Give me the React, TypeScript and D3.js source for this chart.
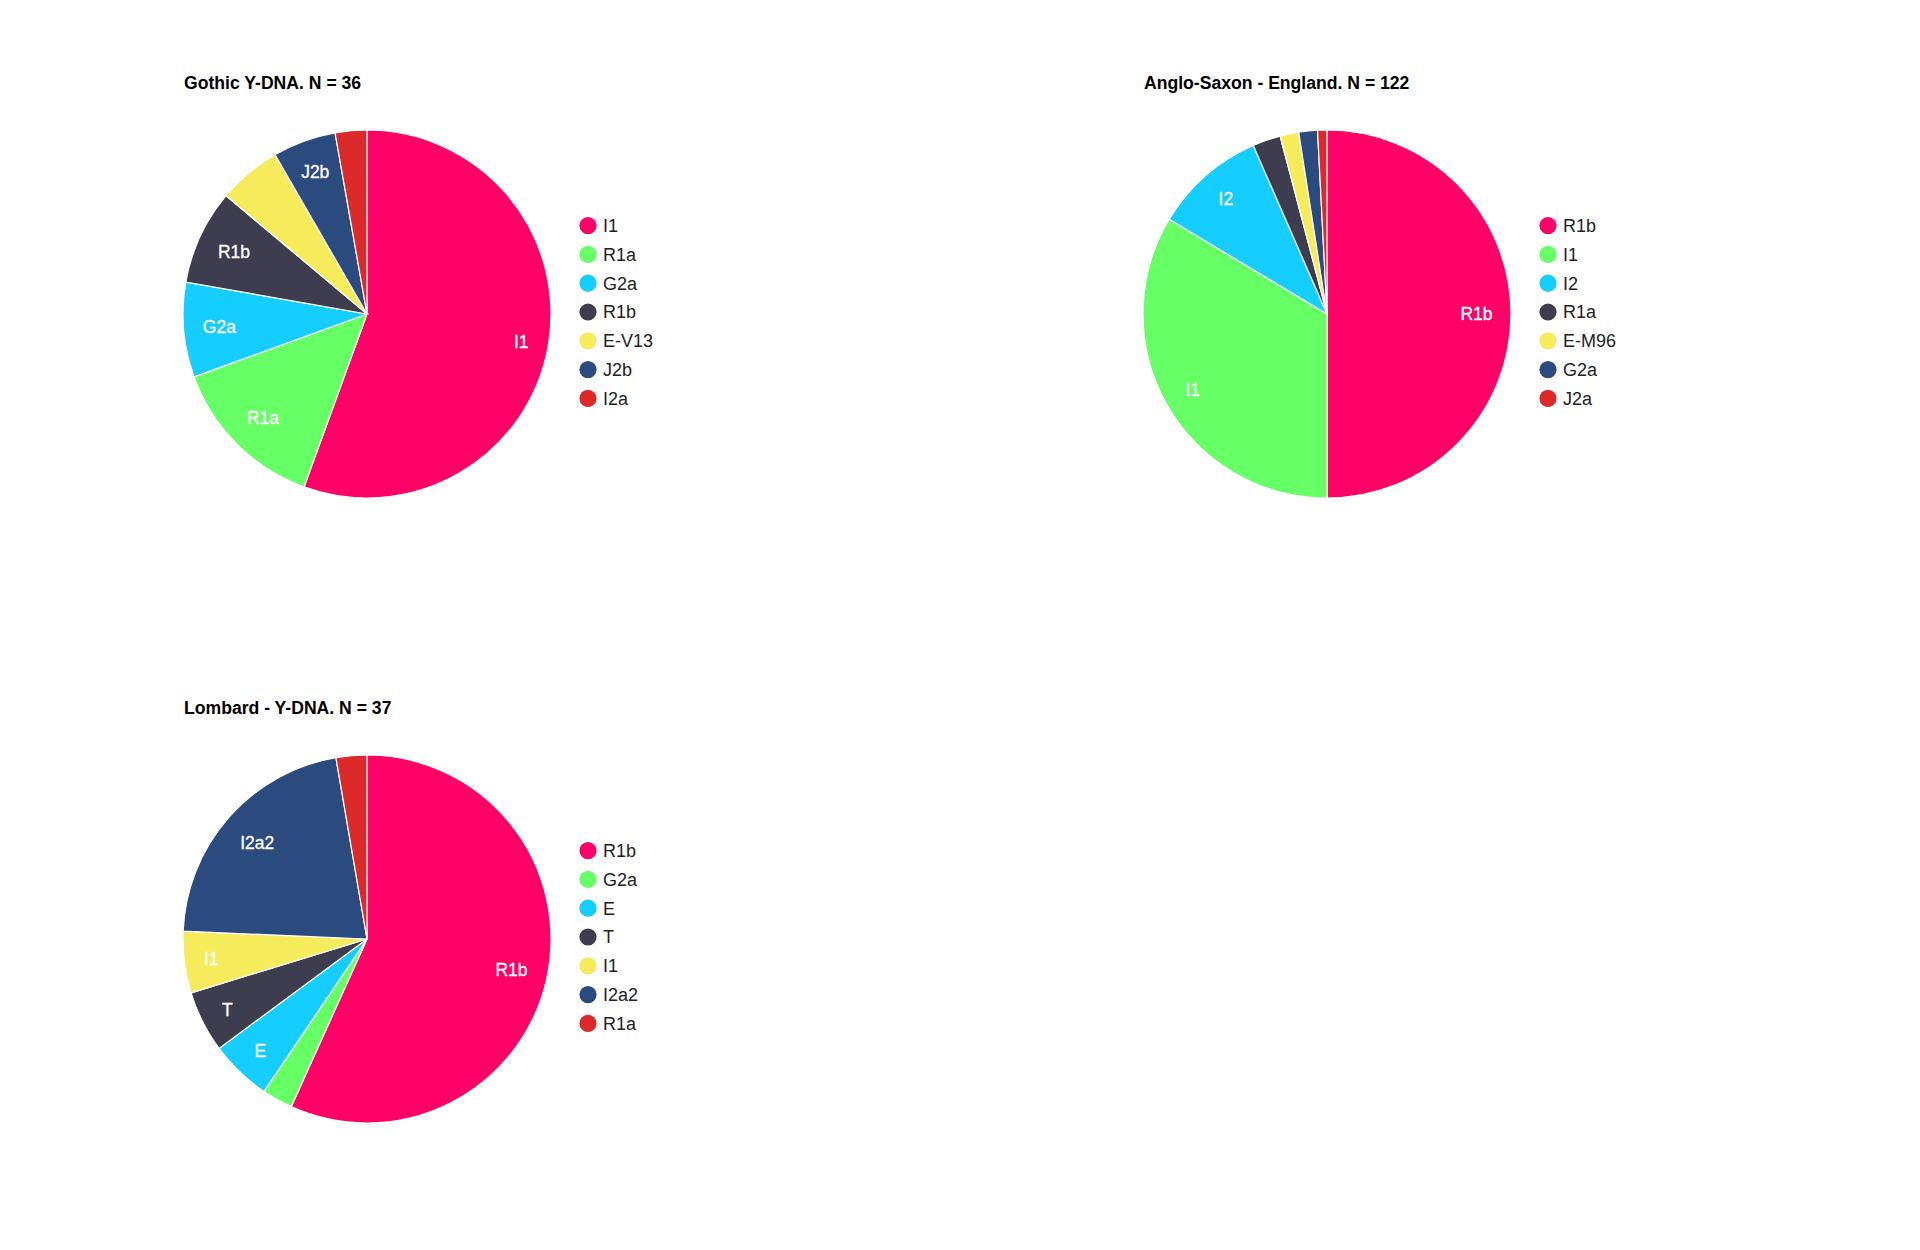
import React from "react";
import * as d3 from "d3";

const gothicTitle = "Gothic Y-DNA. N = 36";
const gothicLabels = ["I1", "R1a", "G2a", "R1b", "E-V13", "J2b", "I2a"];
const gothicValues = [20, 5, 3, 3, 2, 2, 1];

const angloTitle = "Anglo-Saxon - England. N = 122";
const angloLabels = ["R1b", "I1", "I2", "R1a", "E-M96", "G2a", "J2a"];
const angloValues = [61, 41, 12, 3, 2, 2, 1];

const lombardTitle = "Lombard - Y-DNA. N = 37";
const lombardLabels = ["R1b", "G2a", "E", "T", "I1", "I2a2", "R1a"];
const lombardValues = [21, 1, 2, 2, 2, 8, 1];

const palette = ["#ff0066", "#66ff66", "#15cdff", "#3e3c4f", "#f5eb5b", "#2b4a7e", "#dc2a2a"];

const FONT = "'Liberation Sans', Arial, Helvetica, sans-serif";
const R = 184;
const LABEL_SIZE = 17.5;

let ctx: CanvasRenderingContext2D | null = null;
function textWidth(t: string, size: number, weight = "normal") {
  if (!ctx) ctx = document.createElement("canvas").getContext("2d");
  if (!ctx) return t.length * size * 0.6;
  ctx.font = `${weight} ${size}px ${FONT}`;
  return ctx.measureText(t).width;
}

function norm(a: number) {
  const t = Math.PI * 2;
  return ((a % t) + t) % t;
}

type PieProps = { cx: number; cy: number; title: string; labels: string[]; values: number[] };

function Pie({ cx, cy, title, labels, values }: PieProps) {
  const data = labels.map((l, i) => ({ label: l, value: values[i], color: palette[i] }));
  const arcs = d3.pie<any>().sort(null).value((d: any) => d.value).startAngle(0).endAngle(Math.PI * 2)(data);
  const arc = d3.arc<any>().innerRadius(0).outerRadius(R);
  const hh = 10;
  return (
    <g>
      <text x={cx - 183} y={cy - 225} fontFamily={FONT} fontSize={17.6} fontWeight="bold" fill="#000">
        {title}
      </text>
      <g transform={`translate(${cx},${cy})`}>
        {arcs.map((a, i) => (
          <path key={i} d={arc(a) as string} fill={a.data.color} stroke="#ffffff" strokeWidth={1.2} />
        ))}
        {arcs.map((a, i) => {
          const mid = (a.startAngle + a.endAngle) / 2;
          const s = Math.sin(mid), c = Math.cos(mid);
          const hw = textWidth(a.data.label, LABEL_SIZE) / 2;
          const d = 0.9 * R - (hw * Math.abs(s) + hh * Math.abs(c));
          const x = d * s, y = -d * c;
          const corners = [
            [x - hw, y - hh], [x + hw, y - hh], [x - hw, y + hh], [x + hw, y + hh],
          ];
          const span = a.endAngle - a.startAngle;
          const fits = d > 0 && corners.every(([px, py]) => {
            const ang = norm(Math.atan2(px, -py) - a.startAngle);
            return ang <= span && Math.hypot(px, py) <= R;
          });
          if (!fits) return null;
          return (
            <text key={"l" + i} x={x} y={y} dy="0.36em" textAnchor="middle" fontFamily={FONT}
              fontSize={LABEL_SIZE} fill="#ffffff" stroke="#ffffff" strokeWidth={0.3}>
              {a.data.label}
            </text>
          );
        })}
      </g>
      <g transform={`translate(${cx + 221},${cy - 2})`}>
        {data.map((d, i) => {
          const y = (i - (data.length - 1) / 2) * 28.8;
          return (
            <g key={i} transform={`translate(0,${y})`}>
              <circle r={8.6} fill={d.color} />
              <text x={15} dy="0.36em" fontFamily={FONT} fontSize={18} fill="#222222">
                {d.label}
              </text>
            </g>
          );
        })}
      </g>
    </g>
  );
}

export default function App() {
  return (
    <div style={{ position: "absolute", left: 0, top: 0, width: 1920, height: 1250, background: "#fff" }}>
      <svg width={1920} height={1250} style={{ display: "block" }}>
        <rect width={1920} height={1250} fill="#ffffff" />
        <Pie cx={367} cy={314} title={gothicTitle} labels={gothicLabels} values={gothicValues} />
        <Pie cx={1327} cy={314} title={angloTitle} labels={angloLabels} values={angloValues} />
        <Pie cx={367} cy={939} title={lombardTitle} labels={lombardLabels} values={lombardValues} />
      </svg>
    </div>
  );
}
